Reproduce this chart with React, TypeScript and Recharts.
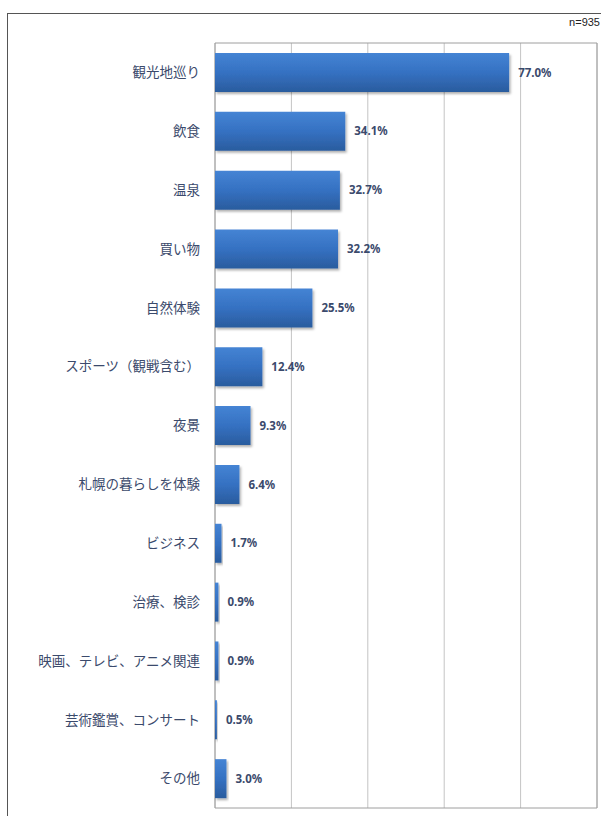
import React from "react";
import {
  BarChart,
  Bar,
  XAxis,
  YAxis,
  CartesianGrid,
  LabelList,
  ReferenceArea,
} from "recharts";

const categories = [
  "観光地巡り",
  "飲食",
  "温泉",
  "買い物",
  "自然体験",
  "スポーツ（観戦含む）",
  "夜景",
  "札幌の暮らしを体験",
  "ビジネス",
  "治療、検診",
  "映画、テレビ、アニメ関連",
  "芸術鑑賞、コンサート",
  "その他",
];
const values = [77.0, 34.1, 32.7, 32.2, 25.5, 12.4, 9.3, 6.4, 1.7, 0.9, 0.9, 0.5, 3.0];
const xTicks = [0, 20, 40, 60, 80, 100];
const xMax = 100;

const data = categories.map((name, i) => ({ name, value: values[i] }));

const labelColor = "#3b4a6c";

// grid x positions from the tick values
const gridX = ({ xAxis, offset }: any) => {
  if (xAxis && typeof xAxis.scale === "function") {
    return xTicks.map((t) => xAxis.scale(t));
  }
  return xTicks.map((t) => offset.left + (offset.width * t) / xMax);
};

function App() {
  return (
    <div
      style={{
        position: "absolute",
        left: 0,
        top: 0,
        width: 601,
        height: 816,
        background: "#fff",
        overflow: "hidden",
      }}
    >
      {/* outer frame */}
      <div
        style={{
          position: "absolute",
          left: 7,
          top: 13,
          width: 620,
          height: 840,
          borderLeft: "1.5px solid #555",
          borderTop: "1.5px solid #555",
        }}
      />
      <div
        style={{
          position: "absolute",
          right: 1,
          top: 16,
          fontFamily: "Arial, 'Liberation Sans', sans-serif",
          fontSize: 11,
          color: "#222",
        }}
      >
        n=935
      </div>
      <BarChart
        width={601}
        height={816}
        data={data}
        layout="vertical"
        margin={{ top: 43, right: 4, bottom: 8, left: 0 }}
        barSize={39}
        style={{ position: "absolute", left: 0, top: 0 }}
      >
        <defs>
          <linearGradient id="barFill" x1="0" y1="0" x2="0" y2="1">
            <stop offset="0%" stopColor="#4584d4" />
            <stop offset="50%" stopColor="#3571c2" />
            <stop offset="100%" stopColor="#2a5c9e" />
          </linearGradient>
          <filter id="barShadow" x="-10%" y="-10%" width="130%" height="140%">
            <feDropShadow dx="1.5" dy="2" stdDeviation="1.2" floodColor="#000" floodOpacity="0.3" />
          </filter>
        </defs>
        <CartesianGrid
          horizontal={false}
          stroke="#c4c4c4"
          verticalCoordinatesGenerator={gridX}
        />
        <XAxis
          type="number"
          domain={[0, xMax]}
          ticks={xTicks}
          tick={false}
          axisLine={false}
          tickLine={false}
          height={0}
        />
        <YAxis
          type="category"
          dataKey="name"
          width={215}
          axisLine={false}
          tickLine={false}
          tickSize={0}
          tickMargin={15}
          interval={0}
          tick={{
            fill: labelColor,
            fontSize: 13.5,
            fontFamily: "'Noto Sans CJK JP', sans-serif",
          }}
        />
        <ReferenceArea x1={0} x2={xMax} fill="none" stroke="#9e9e9e" strokeWidth={1} />
        <Bar
          dataKey="value"
          fill="url(#barFill)"
          filter="url(#barShadow)"
          isAnimationActive={false}
        >
          <LabelList
            dataKey="value"
            position="right"
            offset={9}
            formatter={(v: number) => `${v.toFixed(1)}%`}
            fill={labelColor}
            fontSize={11.5}
            fontWeight="bold"
            fontFamily="'Noto Sans', 'DejaVu Sans', sans-serif"
          />
        </Bar>
      </BarChart>
    </div>
  );
}

export default App;
